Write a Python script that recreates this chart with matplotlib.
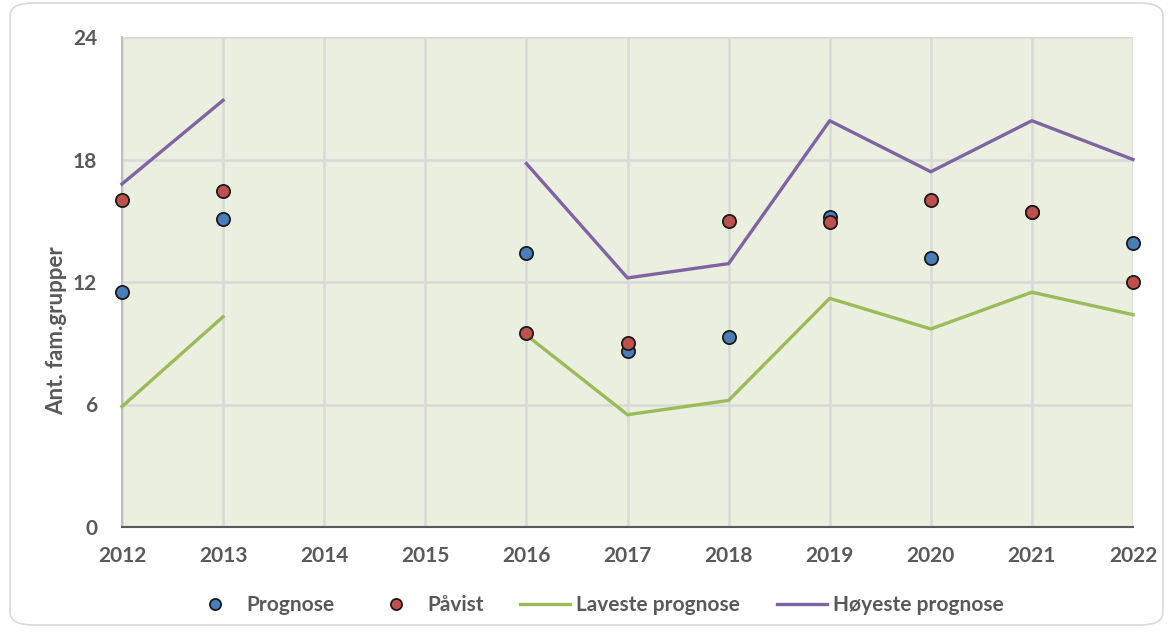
import numpy as np
import matplotlib
matplotlib.use("Agg")
import matplotlib.pyplot as plt
from matplotlib.patches import FancyBboxPatch
from matplotlib.lines import Line2D

years = [2012, 2013, 2014, 2015, 2016, 2017, 2018, 2019, 2020, 2021, 2022]
prognose = [11.5, 15.1, np.nan, np.nan, 13.4, 8.6, 9.3, 15.2, 13.2, 15.45, 13.9]
pavist = [16.0, 16.45, np.nan, np.nan, 9.5, 9.0, 15.0, 14.95, 16.0, 15.45, 12.0]
laveste = [5.9, 10.3, np.nan, np.nan, 9.4, 5.5, 6.2, 11.2, 9.7, 11.5, 10.4]
hoyeste = [16.8, 20.9, np.nan, np.nan, 17.8, 12.2, 12.9, 19.9, 17.4, 19.9, 18.0]
yticks = [0, 6, 12, 18, 24]

txt = "#595959"
font = ["Lato", "Open Sans", "DejaVu Sans"]
plt.rcParams['font.family'] = font

W, H = 1171, 637
fig = plt.figure(figsize=(W / 100, H / 100), dpi=100)

# rounded border
border = FancyBboxPatch((10 / W, 12 / H), 1153 / W, 622 / H,
                        boxstyle="round,pad=0,rounding_size=0.02",
                        transform=fig.transFigure, facecolor="white",
                        edgecolor="#d9d9d9", linewidth=1.2, zorder=-5)
fig.patches.append(border)

ax = fig.add_axes([122 / W, 1 - 527 / H, (1133 - 122) / W, (527 - 37) / H])
ax.set_zorder(2)
ax.set_facecolor("#EBEFDF")
ax.set_xlim(2012, 2022)
ax.set_ylim(0, 24)
ax.set_yticks(yticks)
ax.set_xticks(years)
ax.grid(True, color="#d9d9d9", linewidth=1.8, zorder=0)
ax.set_axisbelow(True)
for s in ["top", "right"]:
    ax.spines[s].set_visible(False)
ax.spines["left"].set_color("#bfbfbf")
ax.spines["left"].set_linewidth(1.5)
ax.spines["bottom"].set_color("#595959")
ax.spines["bottom"].set_linewidth(1.5)
ax.tick_params(length=0, labelsize=15, colors=txt)
for lab in ax.get_xticklabels() + ax.get_yticklabels():
    lab.set_fontweight("bold")
ax.tick_params(axis="y", pad=18)
ax.tick_params(axis="x", pad=14)

ax.plot(years, laveste, color="#9BBB59", linewidth=2.4, zorder=3, clip_on=False)
ax.plot(years, hoyeste, color="#8064A2", linewidth=2.4, zorder=3, clip_on=False)
ax.plot(years, prognose, linestyle="none", marker="o", markersize=9.5,
        markerfacecolor="#4A7EBB", markeredgecolor="#1a1a1a", markeredgewidth=1.3,
        zorder=4, clip_on=False)
ax.plot(years, pavist, linestyle="none", marker="o", markersize=9.5,
        markerfacecolor="#C0504D", markeredgecolor="#1a1a1a", markeredgewidth=1.3,
        zorder=5, clip_on=False)

fig.text(57 / W, 1 - 331 / H, "Ant. fam.grupper", rotation=90, ha="center",
         va="center", fontsize=16, fontweight="bold", color=txt)

handles = [
    Line2D([], [], linestyle="none", marker="o", markersize=8,
           markerfacecolor="#4A7EBB", markeredgecolor="#1a1a1a", markeredgewidth=1.3),
    Line2D([], [], linestyle="none", marker="o", markersize=8,
           markerfacecolor="#C0504D", markeredgecolor="#1a1a1a", markeredgewidth=1.3),
    Line2D([], [], color="#9BBB59", linewidth=2.4),
    Line2D([], [], color="#8064A2", linewidth=2.4),
]
labels = ["Prognose", "Påvist", "Laveste prognose", "Høyeste prognose"]
leg = fig.legend(handles, labels, loc="center", bbox_to_anchor=(597 / W, 1 - 605 / H),
                 ncol=4, frameon=False, fontsize=15, handlelength=2.4,
                 columnspacing=1.75, handletextpad=0.3)
for t in leg.get_texts():
    t.set_color(txt)
    t.set_fontweight("bold")

fig.savefig("out.png", dpi=100)
